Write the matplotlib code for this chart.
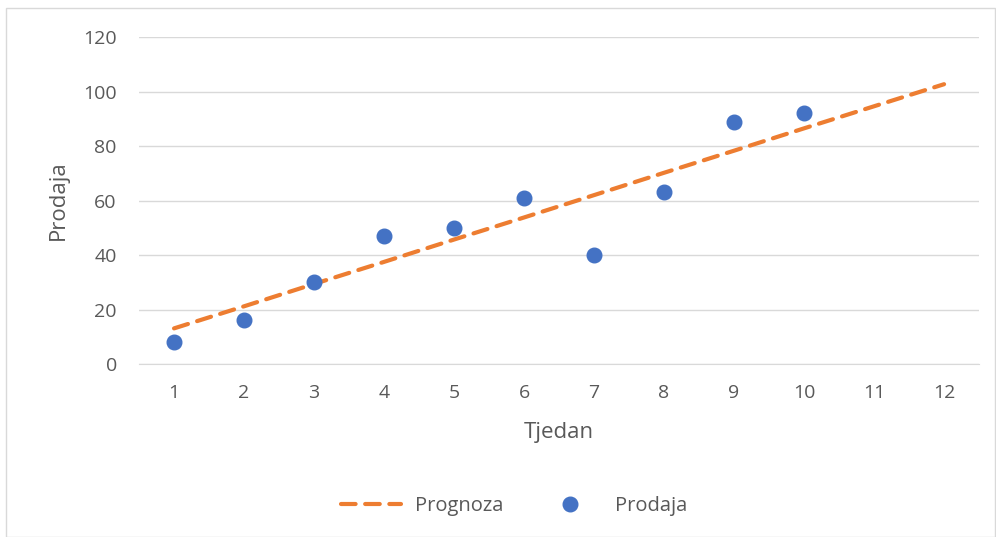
import matplotlib.pyplot as plt
from matplotlib.patches import Rectangle

# Data
weeks = [1, 2, 3, 4, 5, 6, 7, 8, 9, 10]
sales = [8, 16, 30, 47, 50, 61, 40, 63, 89, 92]
forecast_weeks = [1, 2, 3, 4, 5, 6, 7, 8, 9, 10, 11, 12]
forecast = [13.1, 21.2, 29.4, 37.5, 45.7, 53.8, 62.0, 70.2, 78.3, 86.5, 94.6, 102.7]

plt.rcParams['font.family'] = ['Open Sans', 'DejaVu Sans']
text_color = '#595959'
grid_color = '#D9D9D9'

fig = plt.figure(figsize=(9.96, 5.37), dpi=100)
ax = fig.add_axes([0.1396, 0.322, 0.8434, 0.609])

ax.plot(forecast_weeks, forecast, color='#ED7D31', lw=3, ls=(0, (3.5, 2.3)),
        dash_capstyle='round', label='Prognoza', zorder=3)
ax.plot(weeks, sales, 'o', color='#4472C4', ms=10.5, label='Prodaja', zorder=4)

ax.set_xlim(0.5, 12.5)
ax.set_ylim(0, 120)
ax.set_xticks(forecast_weeks)
ax.set_yticks(range(0, 121, 20))
ax.grid(axis='y', color=grid_color, lw=1)
ax.set_axisbelow(True)
for s in ['top', 'right', 'left']:
    ax.spines[s].set_visible(False)
ax.spines['bottom'].set_color(grid_color)
ax.tick_params(length=0, labelsize=14, colors=text_color)
ax.tick_params(axis='x', pad=14)
ax.tick_params(axis='y', pad=16)

ax.set_xlabel('Tjedan', fontsize=16, color=text_color, labelpad=15)
ax.set_ylabel('Prodaja', fontsize=16, color=text_color, labelpad=10)

fig.legend(loc='center', bbox_to_anchor=(0.516, 0.058), ncol=2, frameon=False,
           fontsize=14.5, labelcolor=text_color, columnspacing=1.8, handlelength=3.0,
           handletextpad=0.7)

fig.patches.append(Rectangle((0.006, 0.0), 0.993, 0.985, transform=fig.transFigure,
                             fill=False, edgecolor=grid_color, lw=1))

fig.savefig('out.png', dpi=100)
